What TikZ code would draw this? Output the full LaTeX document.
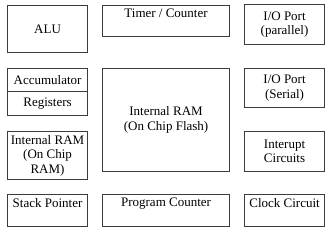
\documentclass[tikz,border=0pt]{standalone}
\usepackage{fontspec}
\setmainfont{Liberation Serif}
\usetikzlibrary{positioning}
\definecolor{BoxGray}{RGB}{60,60,60}

\begin{document}
\begin{tikzpicture}[x=1pt,y=-1pt]
  \tikzset{blk/.style={draw=BoxGray,line width=1.1pt,inner sep=0pt,anchor=north west,
      align=center,font=\fontsize{13}{14.5}\selectfont},
    txt/.style={inner sep=0pt,anchor=north,font=\fontsize{13}{14.5}\selectfont}}
  \useasboundingbox (0,0) rectangle (333,232);
  % first row
  \node[blk,minimum width=80,minimum height=47] (alu) at (7,5) {ALU};
  \node[blk,minimum width=127,minimum height=31] (timer) at (102,5) {};
  \node[txt,below=4pt of timer.north] (timertxt) {Timer / Counter};
  \node[blk,minimum width=80,minimum height=40] (iopar) at (244,4) {I/O Port\\(parallel)};
  % second row
  \node[blk,minimum width=80,minimum height=23] (acc) at (7,68) {Accumulator};
  \node[blk,minimum width=80,minimum height=24] (reg) at (7,91) {Registers};
  \node[blk,minimum width=127,minimum height=103] (flash) at (102,68) {Internal RAM\\(On Chip Flash)};
  \node[blk,minimum width=80,minimum height=39] (ioser) at (244,68) {I/O Port\\(Serial)};
  % third row
  \node[blk,minimum width=80,minimum height=48] (iram) at (7,131) {Internal RAM\\(On Chip\\RAM)};
  \node[blk,minimum width=80,minimum height=40] (intr) at (244,131) {Interupt\\Circuits};
  % last row
  \node[blk,minimum width=80,minimum height=32] (sp) at (7,194) {};
  \node[txt,below=4pt of sp.north] (sptxt) {Stack Pointer};
  \node[blk,minimum width=127,minimum height=32] (pc) at (102,194) {};
  \node[txt,below=4pt of pc.north] (pctxt) {Program Counter};
  \node[blk,minimum width=80,minimum height=32] (clk) at (244,194) {};
  \node[txt,below=4pt of clk.north] (clktxt) {Clock Circuit};
\end{tikzpicture}
\end{document}
